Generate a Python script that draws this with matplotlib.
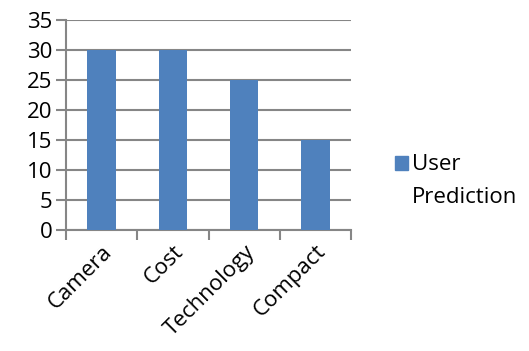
import numpy as np
import matplotlib.pyplot as plt
from matplotlib.patches import Patch

# Données
categories = ['Camera', 'Cost', 'Technology', 'Compact']
user_prediction = [30, 30, 25, 15]
yticks = [0, 5, 10, 15, 20, 25, 30, 35]

bleu = '#4F81BD'
gris = '#868686'

plt.rcParams['font.family'] = ['Open Sans', 'DejaVu Sans']
taille = 16

fig = plt.figure(figsize=(5.29, 3.51), dpi=100)
ax = fig.add_axes([0.1248, 0.3447, 0.5387, 0.5983])

x = np.arange(len(categories))
ax.bar(x, user_prediction, width=0.4, color=bleu, zorder=3)

ax.set_xlim(-0.5, len(categories) - 0.5)
ax.set_ylim(0, 35)
ax.set_yticks(yticks)
ax.set_yticklabels([str(v) for v in yticks])
ax.yaxis.grid(True, color=gris, linewidth=1.5, zorder=0)

# Ticks de l'axe x aux frontières des catégories
ax.set_xticks(np.arange(len(categories) + 1) - 0.5)
ax.set_xticklabels([])
ax.set_xticks(x, minor=True)
ax.set_xticklabels(categories, minor=True, rotation=45, ha='right',
                   rotation_mode='anchor', fontsize=taille)
ax.tick_params(axis='x', which='minor', length=0, pad=8)
ax.tick_params(axis='x', which='major', length=7, width=1.5, color=gris)
ax.tick_params(axis='y', length=7, width=1.5, color=gris, labelsize=taille, pad=3)

for s in ['top', 'right']:
    ax.spines[s].set_visible(False)
ax.spines['left'].set_color(gris)
ax.spines['left'].set_linewidth(1.5)
ax.spines['bottom'].set_color(gris)
ax.spines['bottom'].set_linewidth(1.5)

# Légende
fig.legend(handles=[Patch(color=bleu, label='User')], loc='center left',
           bbox_to_anchor=(0.746, 0.53), frameon=False, fontsize=taille,
           handlelength=0.6, handleheight=0.6, handletextpad=0.2,
           borderpad=0, borderaxespad=0)
fig.text(0.779, 0.436, 'Prediction', fontsize=taille, va='center')

fig.savefig('out.png', dpi=100)
